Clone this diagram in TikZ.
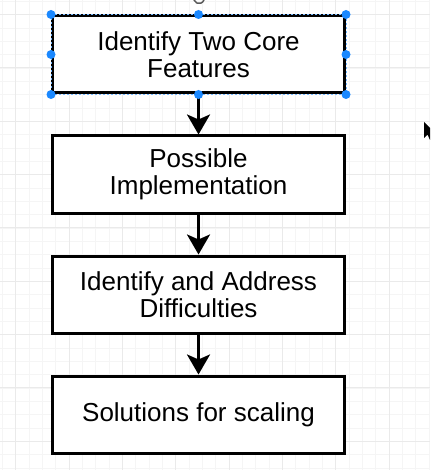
\documentclass[tikz,border=0pt]{standalone}
\usepackage{fontspec}
\setmainfont{Liberation Sans}
\usepackage{xcolor}
\usetikzlibrary{arrows.meta,positioning}

\definecolor{selblue}{RGB}{26,136,255}
\definecolor{gridmajor}{RGB}{234,234,234}
\definecolor{gridminor}{RGB}{245,245,245}

\begin{document}
\begin{tikzpicture}[
    x=1pt, y=-1pt,
    node distance=40pt,
    stepbox/.style={draw, line width=3pt, fill=white, align=center, minimum height=77pt, minimum width=292pt, inner sep=0pt, font=\fontsize{26}{27}\selectfont},
    arrow/.style={-{Stealth[length=20pt, width=23pt, inset=5pt]}, line width=3pt},
    handle/.style={circle, fill=selblue, inner sep=0pt, minimum size=9pt}
]
    \useasboundingbox (0,0) rectangle (430,470);
    \fill[white] (0,0) rectangle (430,470);
    % grid
    \foreach \g in {0,...,35} {
        \draw[gridminor, line width=0.6pt] (2.37+13.333*\g,0) -- (2.37+13.333*\g,470);
        \draw[gridminor, line width=0.6pt] (0,1.17+13.333*\g) -- (430,1.17+13.333*\g);
    }
    \foreach \g in {0,...,8} {
        \draw[gridmajor, line width=0.8pt] (15.7+53.333*\g,0) -- (15.7+53.333*\g,470);
        \draw[gridmajor, line width=0.8pt] (0,14.5+53.333*\g) -- (430,14.5+53.333*\g);
    }

    \node[stepbox] (core) at (198.5,54.5) {Identify Two Core\\Features};
    \node[stepbox, below=of core] (impl) {Possible\\Implementation};
    \node[stepbox, below=of impl] (diff) {Identify and Address\\Difficulties};
    \node[stepbox, below=of diff] (scale) {Solutions for scaling};

    \draw[arrow] (core) -- (impl);
    \draw[arrow] (impl) -- (diff);
    \draw[arrow] (diff) -- (scale);

    % selection of the first box
    \draw[selblue!60, line width=1pt, dash pattern=on 2pt off 2pt] (core.north west) rectangle (core.south east);
    \foreach \a in {north west,north,north east,east,south east,south,south west,west}
        \node[handle] at (core.\a) {};
    \draw[gray!70!black, line width=1.5pt] (194,0) arc[start angle=200, end angle=340, radius=5.3pt];

    % mouse pointer
    \fill[black] (424,122) -- (424,138) -- (427.5,134.5) -- (430,140) -- (430,128) -- cycle;
\end{tikzpicture}
\end{document}
